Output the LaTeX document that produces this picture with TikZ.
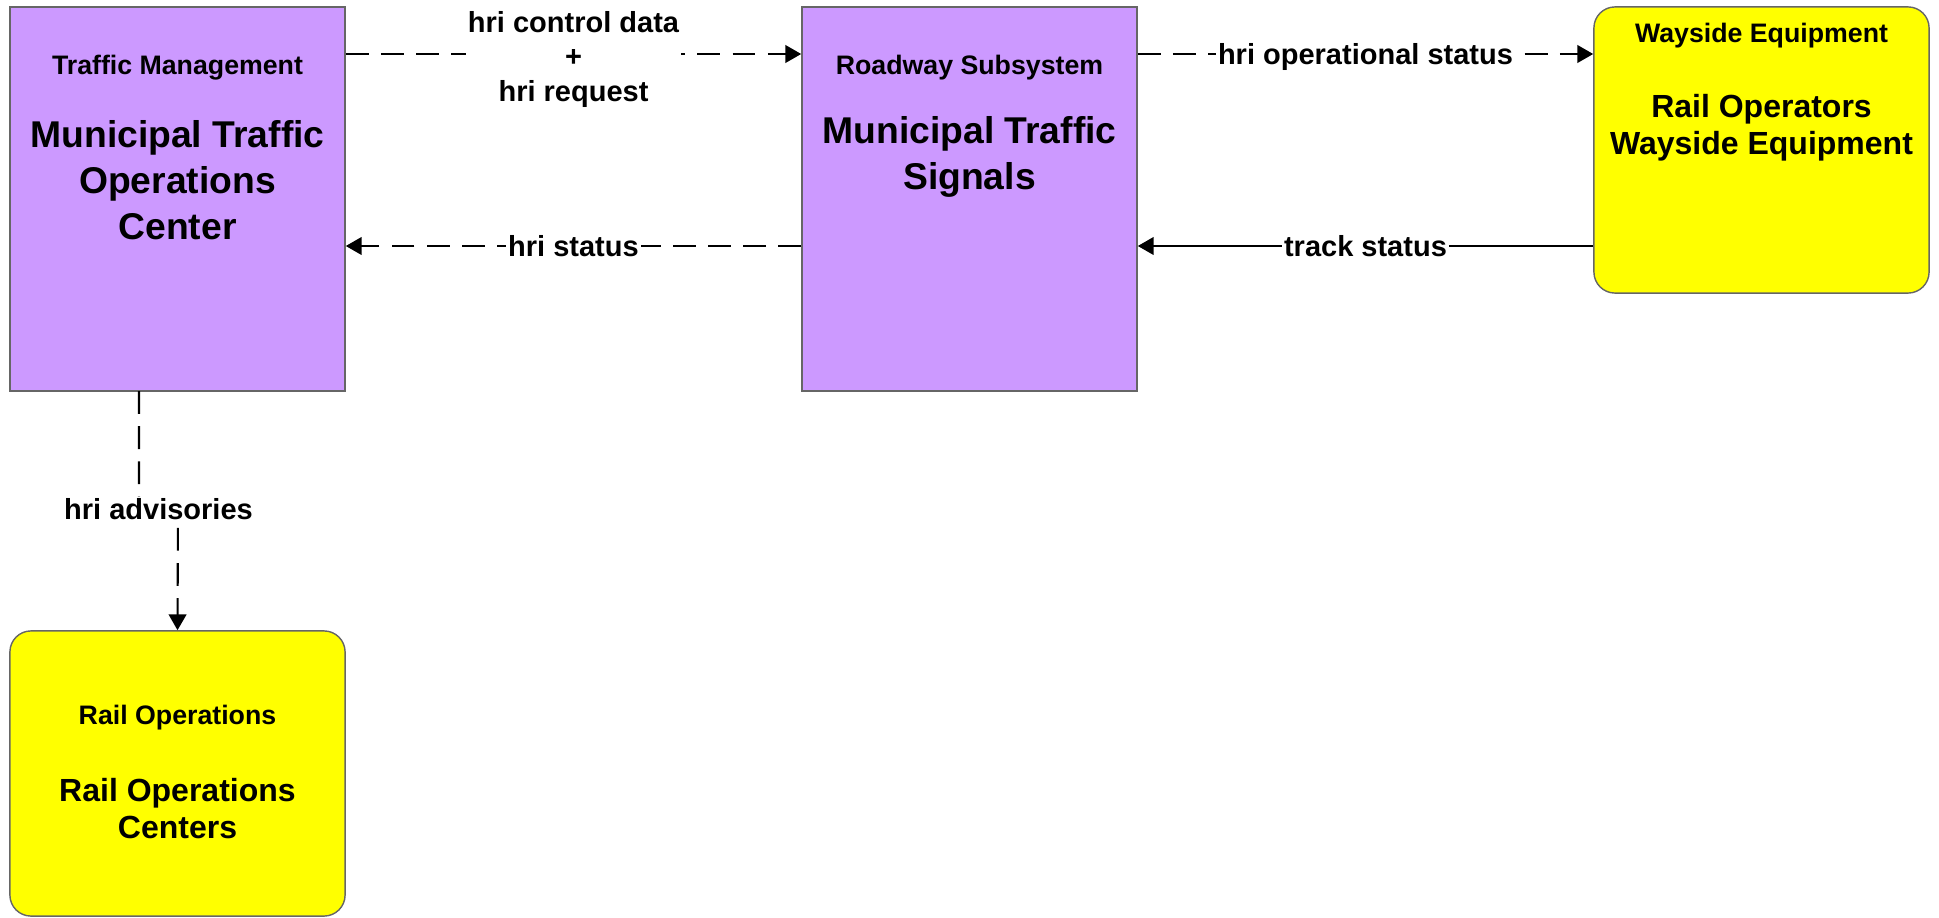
\documentclass[tikz,border=0pt]{standalone}
\usepackage{fontspec}
\setmainfont{Liberation Sans}
\usetikzlibrary{arrows.meta}

\begin{document}
\begin{tikzpicture}[x=0.01cm,y=-0.01cm,
        box/.style={draw=black!60,line width=0.4pt,minimum width=3.35cm,inner sep=0pt},
        subsys/.style={box,fill=subsys},
        term/.style={box,fill=termcol,rounded corners=6pt},
        tag/.style={font=\fontsize{7.6}{9}\selectfont\bfseries,align=center},
        bigname/.style={font=\fontsize{10.6}{13.1}\selectfont\bfseries,align=center},
        smallname/.style={font=\fontsize{9.1}{10.5}\selectfont\bfseries,align=center},
        flow/.style={line width=0.6pt,-{Triangle[length=4.5pt,width=5pt]}},
        flowdash/.style={flow,dash pattern=on 6.5pt off 3.5pt},
        conn/.style={fill=white,inner sep=0.5pt,text depth=0pt,font=\fontsize{8.25}{9.8}\selectfont\bfseries,align=center}]
        \definecolor{subsys}{RGB}{204,153,255}
        \definecolor{termcol}{RGB}{255,255,0}
        \useasboundingbox (0,0) rectangle (1939,918);
        \coordinate (top) at (0,54);
        \coordinate (low) at (0,246);

        \node[subsys,minimum height=3.84cm] (tm) at (177.5,199) {};
        \node[subsys,minimum height=3.84cm] (rw) at (969.5,199) {};
        \node[term,minimum height=2.86cm] (ws) at (1761.5,150) {};
        \node[term,minimum height=2.85cm] (ro) at (177.5,773.5) {};

        \node[tag] (tm tag) at (177.5,68) {Traffic Management};
        \node[bigname] (tm name) at (177.5,180) {Municipal Traffic\\Operations\\Center};
        \node[tag] (rw tag) at (969.5,68) {Roadway Subsystem};
        \node[bigname] (rw name) at (969.5,157) {Municipal Traffic\\Signals};
        \node[tag] (ws tag) at (1761.5,36) {Wayside Equipment};
        \node[smallname] (ws name) at (1761.5,128) {Rail Operators\\Wayside Equipment};
        \node[tag] (ro tag) at (177.5,718) {Rail Operations};
        \node[smallname] (ro name) at (177.5,809) {Rail Operations\\Centers};

        \draw[flowdash] (tm.east |- top) -- node[conn,yshift=-0.6pt] {hri control data\\+\\hri request} (rw.west |- top);
        \draw[flowdash] (rw.west |- low) -- node[conn] {hri status} (tm.east |- low);
        \draw[flowdash] (rw.east |- top) -- node[conn] {hri operational status} (ws.west |- top);
        \draw[flow] (ws.west |- low) -- node[conn] {track status} (rw.east |- low);
        \coordinate (adv) at (139,391);
        \draw[flowdash] (adv) -- (139,509) -- node[conn] {hri advisories} (178,509) -- (ro.north);
\end{tikzpicture}
\end{document}
